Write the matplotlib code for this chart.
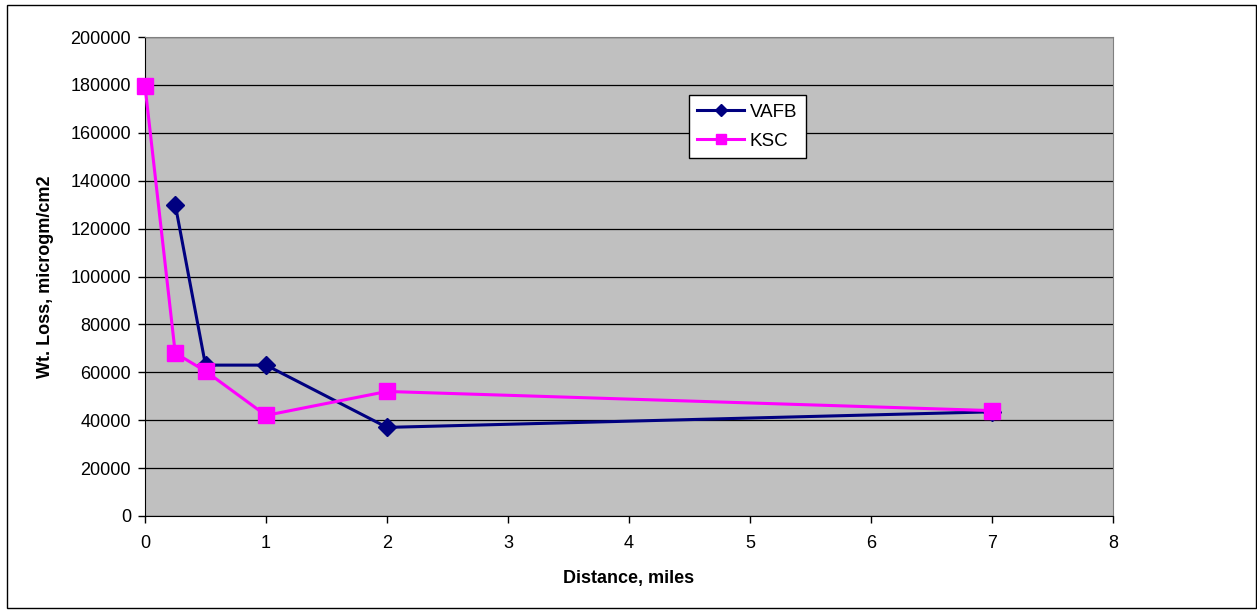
import matplotlib
matplotlib.use("Agg")
import matplotlib.pyplot as plt
from matplotlib.patches import Rectangle

plt.rcParams['font.family'] = ['Liberation Sans', 'DejaVu Sans']

vafb_x = [0.25, 0.5, 1, 2, 7]
vafb_y = [130000, 63000, 63000, 37000, 43500]
ksc_x = [0, 0.25, 0.5, 1, 2, 7]
ksc_y = [179500, 68000, 60500, 42000, 52000, 44000]
xticks = [0, 1, 2, 3, 4, 5, 6, 7, 8]
yticks = list(range(0, 200001, 20000))

W, H = 1257, 611
fig = plt.figure(figsize=(W / 100, H / 100), dpi=100)
fig.patches.append(Rectangle((7 / W, 3 / H), (1256 - 7) / W, (606 - 3) / H,
                             transform=fig.transFigure, fill=False,
                             edgecolor='black', linewidth=1))

ax = fig.add_axes([145 / W, 1 - 516 / H, (1113 - 145) / W, (516 - 37) / H])
ax.set_facecolor('#c0c0c0')
ax.set_xlim(0, 8)
ax.set_ylim(0, 200000)
ax.set_xticks(xticks)
ax.set_yticks(yticks)
ax.yaxis.grid(True, color='black', linewidth=0.9)
ax.set_axisbelow(True)
for s in ['top', 'right']:
    ax.spines[s].set_color('#808080')
for s in ['left', 'bottom']:
    ax.spines[s].set_color('black')
ax.tick_params(axis='both', direction='out', length=5, width=1, labelsize=13, colors='black')
ax.tick_params(axis='y', pad=5)
ax.tick_params(axis='x', pad=9)

ax.plot(vafb_x, vafb_y, color='#000080', linewidth=2.2, marker='D', markersize=9,
        label='VAFB', clip_on=False, zorder=3)
ax.plot(ksc_x, ksc_y, color='#ff00ff', linewidth=2.2, marker='s', markersize=11,
        label='KSC', clip_on=False, zorder=4)

ax.set_xlabel('Distance, miles', fontsize=13, fontweight='bold', labelpad=13)
ax.set_ylabel('Wt. Loss, microgm/cm2', fontsize=13, fontweight='bold', labelpad=12)

leg = ax.legend(loc='upper left', bbox_to_anchor=((689 - 145) / (1113 - 145), (516 - 95) / (516 - 37)),
                frameon=True, fancybox=False, edgecolor='black', facecolor='white', framealpha=1,
                fontsize=13.5, handlelength=2.5, markerscale=0.7, borderpad=0.45,
                labelspacing=0.65, handletextpad=0.3, borderaxespad=0)
leg.get_frame().set_linewidth(1)

fig.savefig('out.png', dpi=100)
